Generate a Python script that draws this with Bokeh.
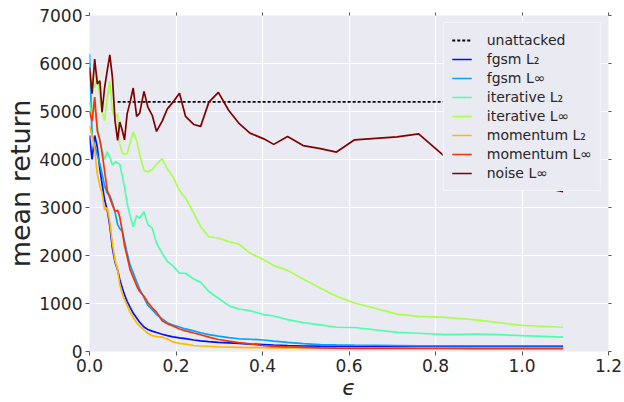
from bokeh.plotting import figure
from bokeh.models import (Range1d, FixedTicker, LinearAxis, Legend, LegendItem,
                          CustomJSTickFormatter, NumeralTickFormatter)
from bokeh.embed import file_html
from bokeh.resources import INLINE

# epsilon grid
eps = [0.0, 0.006, 0.012, 0.018, 0.024, 0.029, 0.035, 0.041, 0.047, 0.053,
       0.059, 0.065, 0.070, 0.076, 0.081, 0.087, 0.094, 0.101, 0.109, 0.116,
       0.126, 0.135, 0.145, 0.155, 0.168, 0.180, 0.193, 0.208, 0.222, 0.241,
       0.257, 0.276, 0.298, 0.322, 0.345, 0.371, 0.403, 0.426, 0.458, 0.494,
       0.534, 0.571, 0.613, 0.711, 0.761, 0.823, 0.889, 0.950, 1.000, 1.095]

unattacked_x = [0.065, 1.095]
unattacked_y = [5200, 5200]

fgsm_l2 = [4500, 4000, 4500, 4260, 3800, 3500, 3150, 2950, 2620, 2150,
           1860, 1700, 1500, 1320, 1180, 1045, 920, 800, 700, 610,
           510, 460, 425, 395, 360, 330, 305, 285, 270, 240,
           220, 205, 190, 180, 170, 155, 145, 135, 125, 115,
           110, 108, 105, 100, 100, 100, 100, 100, 100, 100]

fgsm_linf = [6200, 4500, 4300, 4100, 3900, 3700, 3450, 3300, 3250, 3100,
             2900, 2650, 2560, 2500, 2300, 2050, 1800, 1640, 1450, 1300,
             1120, 960, 870, 770, 680, 600, 550, 510, 470, 430,
             390, 350, 320, 290, 265, 255, 240, 215, 190, 165,
             145, 140, 135, 125, 120, 120, 120, 120, 120, 120]

iter_l2 = [5200, 4900, 5100, 4700, 4400, 4200, 4000, 4160, 4050, 3880,
           3950, 3930, 3900, 3650, 3430, 3085, 2820, 2600, 2830, 2780,
           2910, 2640, 2570, 2255, 2050, 1875, 1785, 1630, 1630, 1510,
           1440, 1250, 1110, 955, 885, 850, 770, 740, 665, 600,
           555, 505, 500, 400, 380, 350, 365, 350, 330, 300]

iter_linf = [5885, 5710, 5500, 5750, 5300, 5000, 4810, 5300, 5640, 5000,
             4880, 4950, 4330, 4130, 4110, 4120, 4350, 4570, 4400, 4100,
             3775, 3740, 3790, 3900, 4020, 3800, 3640, 3350, 3200, 2880,
             2600, 2390, 2360, 2290, 2240, 2050, 1910, 1790, 1690, 1510,
             1320, 1150, 1010, 780, 730, 710, 665, 595, 545, 505]

mom_l2 = [4700, 4500, 4200, 3700, 3450, 3300, 2950, 3000, 2700, 2250,
          1900, 1700, 1400, 1200, 1080, 960, 820, 710, 600, 530,
          450, 380, 330, 310, 300, 260, 200, 170, 155, 125,
          115, 105, 95, 90, 85, 80, 78, 75, 75, 75,
          75, 75, 75, 72, 72, 72, 70, 70, 70, 70]

mom_linf = [5000, 4800, 5300, 4600, 4400, 4150, 3750, 3360, 3200, 3050,
            2920, 2940, 2800, 2500, 2200, 1980, 1700, 1550, 1370, 1250,
            1150, 1020, 910, 820, 640, 580, 530, 470, 430, 385,
            350, 300, 250, 215, 185, 160, 120, 105, 95, 85,
            75, 70, 65, 65, 62, 62, 60, 60, 60, 60]

noise_linf = [5920, 5370, 6090, 5575, 5640, 4985, 5500, 5850, 6180, 5710,
              4810, 4400, 4780, 4600, 4410, 4950, 5200, 5490, 4900, 4965,
              5420, 5090, 4920, 4585, 4800, 5055, 5195, 5380, 4900, 4730,
              4690, 5195, 5400, 5020, 4760, 4550, 4430, 4315, 4480, 4290,
              4225, 4155, 4410, 4470, 4535, 4050, 3850, 3650, 3500, 3330]

series = [
    ("fgsm L\u2082", fgsm_l2, "#0010FF"),
    ("fgsm L\u221e", fgsm_linf, "#00A4FF"),
    ("iterative L\u2082", iter_l2, "#4DFFAA"),
    ("iterative L\u221e", iter_linf, "#AAFF4D"),
    ("momentum L\u2082", mom_l2, "#FFB900"),
    ("momentum L\u221e", mom_linf, "#FF3000"),
    ("noise L\u221e", noise_linf, "#7F0000"),
]

x_ticks = [0.0, 0.2, 0.4, 0.6, 0.8, 1.0, 1.2]
y_ticks = [0, 1000, 2000, 3000, 4000, 5000, 6000, 7000]

TXT = "#262626"
FONT = "DejaVu Sans"

p = figure(width=624, height=402, output_backend="svg", toolbar_location=None,
           x_range=Range1d(0, 1.2), y_range=Range1d(0, 7000),
           min_border_left=89, min_border_right=16, min_border_top=15,
           min_border_bottom=50, background_fill_color="#EAEAF2",
           border_fill_color="white", outline_line_color=None)

p.xgrid.ticker = FixedTicker(ticks=x_ticks)
p.ygrid.ticker = FixedTicker(ticks=y_ticks)
p.grid.grid_line_color = "white"
p.grid.grid_line_width = 1.2

for ax, ticks in ((p.xaxis[0], x_ticks), (p.yaxis[0], y_ticks)):
    ax.ticker = FixedTicker(ticks=ticks)
    ax.axis_line_color = None
    ax.major_tick_in = 0
    ax.major_tick_out = 4
    ax.major_tick_line_color = "#555555"
    ax.minor_tick_line_color = None
    ax.major_label_text_font = FONT
    ax.major_label_text_font_size = "17px"
    ax.major_label_text_color = TXT
    ax.major_label_standoff = 3
    ax.axis_label_text_font = FONT
    ax.axis_label_text_color = TXT

p.xaxis[0].formatter = NumeralTickFormatter(format="0.0")
p.xaxis[0].axis_label = "\u03f5"
p.xaxis[0].axis_label_text_font_size = "22px"
p.xaxis[0].axis_label_text_font_style = "italic"
p.xaxis[0].axis_label_standoff = 0
p.yaxis[0].axis_label = "mean return"
p.yaxis[0].axis_label_text_font_size = "27px"
p.yaxis[0].axis_label_text_font_style = "normal"
p.yaxis[0].axis_label_standoff = 0

blank = CustomJSTickFormatter(code="return '';")
for loc, ticks in (("above", x_ticks), ("right", y_ticks)):
    ax = LinearAxis(ticker=FixedTicker(ticks=ticks), formatter=blank)
    ax.axis_line_color = None
    ax.major_tick_in = 0
    ax.major_tick_out = 3
    ax.major_tick_line_color = "#555555"
    ax.minor_tick_line_color = None
    ax.major_label_standoff = 0
    p.add_layout(ax, loc)

items = []
r0 = p.line(unattacked_x, unattacked_y, line_color="black", line_width=1.8,
            line_dash="3 2")
items.append(LegendItem(label="unattacked", renderers=[r0]))
for name, ys, col in series:
    r = p.line(eps, ys, line_color=col, line_width=1.7)
    items.append(LegendItem(label=name, renderers=[r]))

legend = Legend(items=items, location="top_right")
legend.margin = 7
legend.padding = 8
legend.spacing = 1
legend.label_height = 18
legend.glyph_height = 18
legend.glyph_width = 20
legend.label_standoff = 15
legend.label_text_font = FONT
legend.label_text_font_size = "14px"
legend.label_text_color = TXT
legend.background_fill_color = "#EAEAF2"
legend.background_fill_alpha = 1.0
legend.border_line_color = "white"
legend.border_line_width = 1.5
p.add_layout(legend, "center")

open("out.html", "w").write(file_html(p, INLINE))
